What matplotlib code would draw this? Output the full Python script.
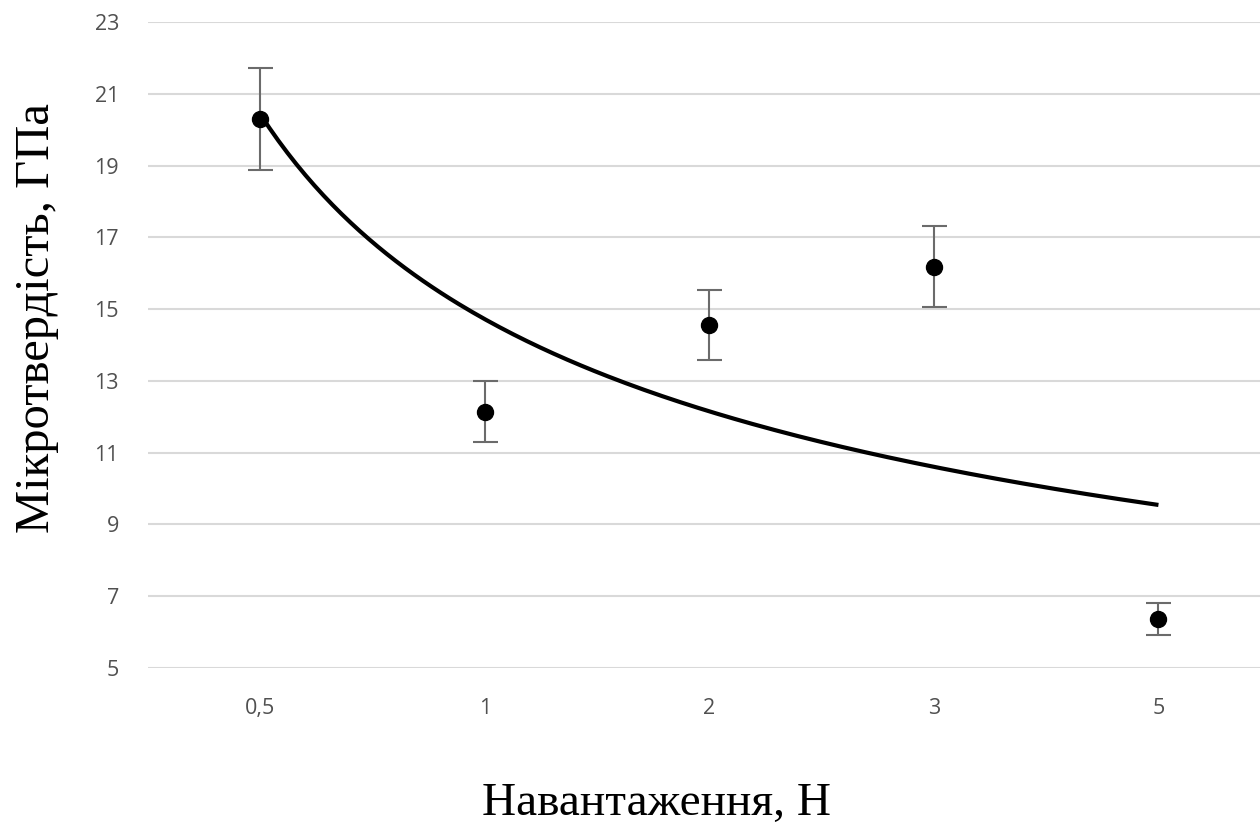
import numpy as np
import matplotlib
matplotlib.use("Agg")
import matplotlib.pyplot as plt

# Data
categories = ["0,5", "1", "2", "3", "5"]
hardness = [20.30, 12.14, 14.56, 16.18, 6.37]
errors = [1.42, 0.85, 0.98, 1.13, 0.45]
y_ticks = [5, 7, 9, 11, 13, 15, 17, 19, 21, 23]

fig = plt.figure(figsize=(12.6, 8.25), dpi=100)
ax = fig.add_axes([0.1175, 0.1903, 0.891, 0.7830])

x = np.arange(1, len(categories) + 1)
y = np.array(hardness)

# Power trendline (Excel style) fitted on category index
coef = np.polyfit(np.log(x), np.log(y), 1)
xs = np.linspace(1, len(categories), 200)
ys = np.exp(coef[1]) * xs ** coef[0]
ax.plot(xs, ys, color="black", lw=3, zorder=3, solid_capstyle="butt")

ax.errorbar(x, y, yerr=errors, fmt="o", color="black", markersize=11.5,
            ecolor="#6b6b6b", elinewidth=1.5, capsize=9, capthick=1.5, zorder=4)

ax.set_xlim(0.5, 5.5)
ax.set_ylim(5, 23)
ax.set_yticks(y_ticks)
ax.set_yticklabels([str(t) for t in y_ticks])
ax.set_xticks(x)
ax.set_xticklabels(categories)
ax.grid(axis="y", color="#d9d9d9", lw=1.5)
ax.set_axisbelow(True)
for s in ax.spines.values():
    s.set_visible(False)
ax.tick_params(length=0, labelsize=15.5, labelcolor="#505050")
ax.tick_params(axis="x", pad=21.5)
ax.tick_params(axis="y", pad=21)
for lab in ax.get_xticklabels() + ax.get_yticklabels():
    lab.set_fontfamily("Open Sans")

fig.text(0.5214, 0.012, "Навантаження, Н", family="Liberation Serif",
         fontsize=34, ha="center", va="baseline", color="black")
fig.text(0.029, 0.6145, "Мікротвердість, ГПа", family="Liberation Serif",
         fontsize=35, ha="center", va="center", rotation=90, color="black")

fig.savefig("out.png", dpi=100)
